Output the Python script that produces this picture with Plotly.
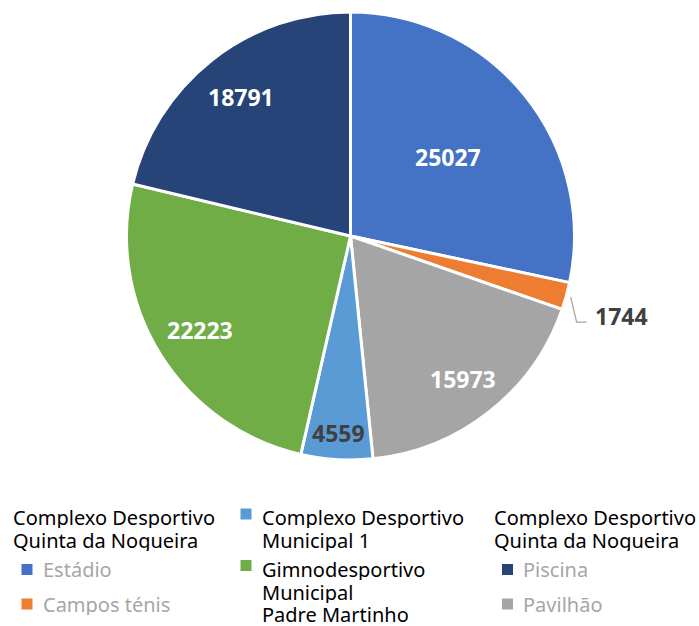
import math
import plotly.graph_objects as go

W, H = 699, 626

labels = ["Estádio", "Campos ténis", "Pavilhão", "Complexo Desportivo Municipal 1",
          "Gimnodesportivo Municipal Padre Martinho", "Piscina"]
values = [25027, 1744, 15973, 4559, 22223, 18791]
colors = ["#4472C4", "#ED7D31", "#A5A5A5", "#5B9BD5", "#70AD47", "#264478"]
text_colors = ["white", "#404040", "white", "#404040", "white", "white"]
# radial position of each data label (fraction of radius); None = outside with leader line
label_radius = [0.56, None, 0.81, 0.88, 0.79, 0.79]

FONT = "Noto Sans"

def px(x):
    return x / W

def py(y):
    return 1 - y / H

PIE_L, PIE_R, PIE_T, PIE_B = 126, 575, 12, 460

fig = go.Figure(go.Pie(
    labels=labels, values=values, sort=False, direction="clockwise", rotation=0,
    marker=dict(colors=colors, line=dict(color="white", width=3)),
    textinfo="none",
    domain=dict(x=[px(PIE_L), px(PIE_R)], y=[py(PIE_B), py(PIE_T)]),
    showlegend=False, hoverinfo="label+value",
))

# data labels placed at each slice's mid angle
total = sum(values)
cx, cy, R = (PIE_L + PIE_R) / 2, (PIE_T + PIE_B) / 2, (PIE_R - PIE_L) / 2
cum = 0
for v, lr, tc in zip(values, label_radius, text_colors):
    mid = (cum + v / 2) / total * 2 * math.pi
    cum += v
    s, c = math.sin(mid), math.cos(mid)
    if lr is not None:
        fig.add_annotation(x=px(cx + lr * R * s), y=py(cy - lr * R * c), xref="paper", yref="paper",
                           text=f"<b>{v}</b>", showarrow=False, xanchor="center", yanchor="middle",
                           font=dict(family=FONT, size=23, color=tc))
    else:
        sx, sy = cx + (R + 3) * s + 1, cy - (R + 3) * c
        ex, ey = sx + 6, sy + 25
        fig.add_shape(type="path", xref="paper", yref="paper",
                      path=f"M {px(sx)} {py(sy)} L {px(ex)} {py(ey)} L {px(ex + 10)} {py(ey)}",
                      line=dict(color="#A6A6A6", width=1.3))
        fig.add_annotation(x=px(ex + 16), y=py(ey - 6), xref="paper", yref="paper",
                           text=f"<b>{v}</b>", showarrow=False, xanchor="left", yanchor="middle",
                           font=dict(family=FONT, size=23, color="#404040"))

# custom grouped legend
LF = 20
head_color = "black"
item_color = "#A6A6A6"

def text(x, y, s, color):
    fig.add_annotation(x=px(x), y=py(y), xref="paper", yref="paper", text=s, showarrow=False,
                       xanchor="left", yanchor="middle", align="left", valign="middle",
                       height=22, borderpad=0,
                       font=dict(family=FONT, size=LF, color=color))

def square(x, y, c):
    fig.add_shape(type="rect", xref="paper", yref="paper", x0=px(x - 5.5), x1=px(x + 5.5),
                  y0=py(y + 5.5), y1=py(y - 5.5), fillcolor=c, line=dict(width=0))

group_lines = ["Complexo Desportivo", "Quinta da Nogueira"]

# left group
text(12, 517, group_lines[0], head_color)
text(12, 540, group_lines[1], head_color)
square(27, 569.5, colors[0]); text(42, 569, labels[0], item_color)
square(27, 604, colors[1]); text(42, 604, labels[1], item_color)

# middle items
square(246, 514, colors[3])
text(261, 517, "Complexo Desportivo", head_color)
text(261, 540, "Municipal 1", head_color)
square(246, 565.5, colors[4])
text(261, 569, "Gimnodesportivo", head_color)
text(261, 592, "Municipal", head_color)
text(261, 614, "Padre Martinho", head_color)

# right group
text(493, 517, group_lines[0], head_color)
text(493, 540, group_lines[1], head_color)
square(507.5, 569.5, colors[5]); text(522, 569, labels[5], item_color)
square(507.5, 604, colors[2]); text(522, 604, labels[2], item_color)

fig.update_layout(width=W, height=H, margin=dict(l=0, r=0, t=0, b=0),
                  paper_bgcolor="white", plot_bgcolor="white", showlegend=False)

fig.write_html("out.html", post_script="document.body.style.margin='0';",
               config={"displayModeBar": False})
